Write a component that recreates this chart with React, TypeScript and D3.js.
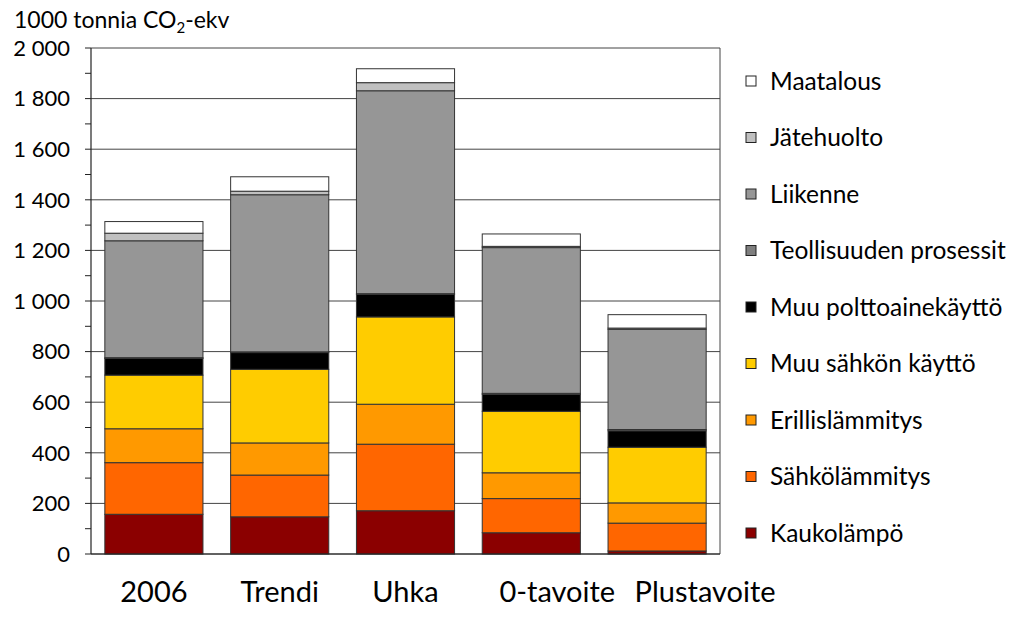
import React from "react";
import * as d3 from "d3";

const categories = ["2006", "Trendi", "Uhka", "0-tavoite", "Plustavoite"];
const seriesNames = [
  "Kaukolämpö",
  "Sähkölämmitys",
  "Erillislämmitys",
  "Muu sähkön käyttö",
  "Muu polttoainekäyttö",
  "Teollisuuden prosessit",
  "Liikenne",
  "Jätehuolto",
  "Maatalous",
];
const seriesColors = ["#8B0000", "#FF6600", "#FF9900", "#FFCC00", "#000000", "#7F7F7F", "#969696", "#C0C0C0", "#FFFFFF"];

const kaukolampo = [157, 147, 171, 84, 12];
const sahkolammitys = [204, 165, 263, 135, 110];
const erillislammitys = [134, 127, 158, 102, 80];
const muuSahkonKaytto = [212, 291, 345, 243, 220];
const muuPolttoaine = [66, 66, 89, 67, 65];
const teollisuudenProsessit = [3, 3, 3, 4, 5];
const liikenne = [462, 621, 802, 576, 396];
const jatehuolto = [30, 14, 32, 5, 5];
const maatalous = [46, 57, 55, 49, 53];

const seriesValues = [
  kaukolampo,
  sahkolammitys,
  erillislammitys,
  muuSahkonKaytto,
  muuPolttoaine,
  teollisuudenProsessit,
  liikenne,
  jatehuolto,
  maatalous,
];

const yTicks = [0, 200, 400, 600, 800, 1000, 1200, 1400, 1600, 1800, 2000];
const yTickLabels = ["0", "200", "400", "600", "800", "1 000", "1 200", "1 400", "1 600", "1 800", "2 000"];

const W = 1012;
const H = 621;
const plot = { left: 91, right: 720, top: 48, bottom: 554 };
const FONT = "Lato, 'Open Sans', sans-serif";
// horizontal nudge of category labels as placed in the original figure
const labelShift = [0, 0, 0, 26, 48];

export default function App() {
  const x = d3
    .scaleBand<string>()
    .domain(categories)
    .range([plot.left, plot.right])
    .paddingInner(0.22)
    .paddingOuter(0.11);
  const y = d3.scaleLinear().domain([0, 2000]).range([plot.bottom, plot.top]);

  const rows = categories.map((c, i) => {
    const r: any = { cat: c };
    seriesNames.forEach((s, j) => (r[s] = seriesValues[j][i]));
    return r;
  });
  const stacked = d3.stack().keys(seriesNames)(rows);

  const minorTicks = d3.range(100, 2000, 200);
  const legendItems = seriesNames.map((n, i) => ({ name: n, color: seriesColors[i] })).reverse();
  const legendY0 = 81;
  const legendStep = 56.5;

  return (
    <svg
      width={W}
      height={H}
      style={{ position: "absolute", left: 0, top: 0, background: "#fff" }}
      fontFamily={FONT}
    >
      <rect x={0} y={0} width={W} height={H} fill="#fff" />
      {yTicks.map((t) => (
        <line key={"g" + t} x1={plot.left} x2={plot.right} y1={y(t)} y2={y(t)} stroke="#444" strokeWidth={1} />
      ))}
      <line x1={plot.right} x2={plot.right} y1={plot.top} y2={plot.bottom} stroke="#444" strokeWidth={1} />

      {stacked.map((layer, j) => (
        <g key={layer.key}>
          {layer.map((d, i) => (
            <rect
              key={i}
              x={x(categories[i])!}
              width={x.bandwidth()}
              y={y(d[1])}
              height={Math.max(0, y(d[0]) - y(d[1]))}
              fill={seriesColors[j]}
              stroke="#333"
              strokeWidth={1}
            />
          ))}
        </g>
      ))}

      <line x1={plot.left} x2={plot.left} y1={plot.top} y2={plot.bottom} stroke="#222" strokeWidth={1.2} />
      <line x1={plot.left} x2={plot.right} y1={plot.bottom} y2={plot.bottom} stroke="#222" strokeWidth={1.2} />
      {yTicks.map((t) => (
        <line key={"t" + t} x1={plot.left - 6} x2={plot.left} y1={y(t)} y2={y(t)} stroke="#222" strokeWidth={1} />
      ))}
      {minorTicks.map((t) => (
        <line key={"m" + t} x1={plot.left - 6} x2={plot.left} y1={y(t)} y2={y(t)} stroke="#222" strokeWidth={1} />
      ))}
      {yTicks.map((t, i) => (
        <text key={"l" + t} x={70} y={y(t)} dy="0.35em" textAnchor="end" fontSize={22} fill="#000">
          {yTickLabels[i]}
        </text>
      ))}

      {categories.map((c, i) => (
        <text
          key={c}
          x={x(c)! + x.bandwidth() / 2 + labelShift[i]}
          y={602}
          textAnchor="middle"
          fontSize={29}
          fill="#000"
        >
          {c}
        </text>
      ))}

      <text x={14} y={28} fontSize={23} fill="#000">
        1000 tonnia CO
        <tspan fontSize={15} dy={5}>2</tspan>
        <tspan dy={-5}>-ekv</tspan>
      </text>

      {legendItems.map((it, i) => (
        <g key={it.name} transform={`translate(746, ${legendY0 + i * legendStep})`}>
          <rect x={0} y={-5} width={10} height={10} fill={it.color} stroke="#222" strokeWidth={1} />
          <text x={24} y={0} dy="0.35em" fontSize={24.5} fill="#000">
            {it.name}
          </text>
        </g>
      ))}
    </svg>
  );
}
